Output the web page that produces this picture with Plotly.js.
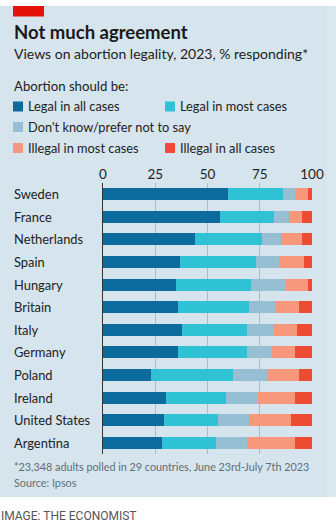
<!DOCTYPE html>
<html>
<head>
<meta charset="utf-8">
<script src="https://cdn.plot.ly/plotly-3.0.1.min.js"></script>
<style>html,body{margin:0;padding:0;background:#fff;}#chart{width:336px;height:527px;}</style>
</head>
<body>
<div id="chart"></div>
<script>
// ---- data ----
const countries = ["Sweden","France","Netherlands","Spain","Hungary","Britain","Italy","Germany","Poland","Ireland","United States","Argentina"];
const legalAll    = [60,56,44,37,35,36,38,36,23,30,29,28];
const legalMost   = [26,26,32,36,36,34,31,33,39,29,26,26];
const dontKnow    = [ 6, 7, 9,11,16,13,13,12,17,15,15,15];
const illegalMost = [ 6, 6,10,12,11,11,11,11,15,18,20,23];
const illegalAll  = [ 2, 5, 5, 4, 2, 6, 7, 8, 6, 8,10, 8];
const seriesNames = ["Legal in all cases","Legal in most cases","Don't know/prefer not to say","Illegal in most cases","Illegal in all cases"];
const tickVals = [0,25,50,75,100];
const titleText = "Not much agreement";
const subtitleText = "Views on abortion legality, 2023, % responding*";
const legendTitle = "Abortion should be:";
const footnote = "*23,348 adults polled in 29 countries, June 23rd-July 7th 2023";
const sourceText = "Source: Ipsos";
const creditText = "IMAGE: THE ECONOMIST";

// ---- styles ----
const colors = ["#0c6a9c","#2fc2d5","#96bfd3","#f7987d","#ee4b35"];
const W = 336, H = 527;
const M = {l:103, r:24, t:183, b:73};
const PW = W - M.l - M.r, PH = H - M.t - M.b;
const xp = px => (px - M.l) / PW;
const yp = py => (H - M.b - py) / PH;
const FONT = "Lato, 'Noto Sans', sans-serif";
const TXT = "#222222";

const seriesVals = [legalAll, legalMost, dontKnow, illegalMost, illegalAll];
const traces = seriesVals.map((vals, i) => ({
  type: "bar", orientation: "h", name: seriesNames[i],
  y: countries, x: vals, width: 0.53,
  marker: {color: colors[i], line: {width: 0}},
  hoverinfo: "skip", showlegend: false
}));

const shapes = [
  {type:"rect", xref:"paper", yref:"paper", x0:xp(0), x1:xp(336), y0:yp(6), y1:yp(497), fillcolor:"#d6e4ed", line:{width:0}, layer:"below"},
  {type:"rect", xref:"paper", yref:"paper", x0:xp(327), x1:xp(336), y0:yp(6), y1:yp(497), fillcolor:"#dbe8ef", line:{width:0}, layer:"below"},
  {type:"rect", xref:"paper", yref:"paper", x0:xp(13), x1:xp(44), y0:yp(6), y1:yp(16.5), fillcolor:"#e3120b", line:{width:0}, layer:"above"}
];

const annotations = [];
function txt(text, x, y, size, color, opts) {
  annotations.push(Object.assign({
    text: text, xref:"paper", yref:"paper", x: xp(x), y: yp(y),
    xanchor:"left", yanchor:"middle", showarrow:false,
    font:{family:FONT, size:size, color:color}
  }, opts || {}));
}
txt(titleText, 12, 32, 18.5, "#1a1a1a", {font:{family:FONT, size:18.5, color:"#1a1a1a", weight:700}});
txt(subtitleText, 12, 53, 14, TXT);
txt(legendTitle, 12, 86, 13.2, TXT);

const legPos = [[13,106.5],[165,106.5],[13,127],[13,148],[165,148]];
seriesNames.forEach((n, i) => {
  const [lx, ly] = legPos[i];
  shapes.push({type:"rect", xref:"paper", yref:"paper", x0:xp(lx), x1:xp(lx+10), y0:yp(ly+5), y1:yp(ly-5), fillcolor:colors[i], line:{width:0}});
  txt(n, lx + 13, ly, 12.8, TXT);
});

countries.forEach(c => {
  annotations.push({text:c, xref:"paper", yref:"y", x:xp(12), y:c, xanchor:"left", yanchor:"middle", showarrow:false, font:{family:FONT, size:12.9, color:TXT}});
});

txt(footnote, 12, 466, 10.8, "#5f6e78");
txt(sourceText, 12, 482, 10.8, "#5f6e78");
txt(creditText, -1, 516, 12, "#555555", {font:{family:"Roboto, 'Liberation Sans', sans-serif", size:12, color:"#555555"}});

const layout = {
  width: W, height: H, margin: M,
  paper_bgcolor: "#ffffff", plot_bgcolor: "rgba(0,0,0,0)",
  barmode: "stack", bargap: 0.47,
  showlegend: false,
  font: {family: FONT, color: TXT},
  xaxis: {
    range: [0, 100], side: "top", tickvals: tickVals, ticktext: tickVals.map(String),
    showgrid: true, gridcolor: "#a9bcc8", gridwidth: 1, zeroline: false, showline: false,
    ticks: "", tickfont: {family: FONT, size: 13.5, color: TXT}, fixedrange: true
  },
  yaxis: {
    type: "category", autorange: "reversed", showticklabels: false,
    showgrid: false, zeroline: false, showline: true, linecolor: "#333333", linewidth: 1.3,
    ticks: "", fixedrange: true
  },
  shapes: shapes,
  annotations: annotations
};

Plotly.newPlot("chart", traces, layout, {displayModeBar: false, staticPlot: true});
</script>
</body>
</html>
